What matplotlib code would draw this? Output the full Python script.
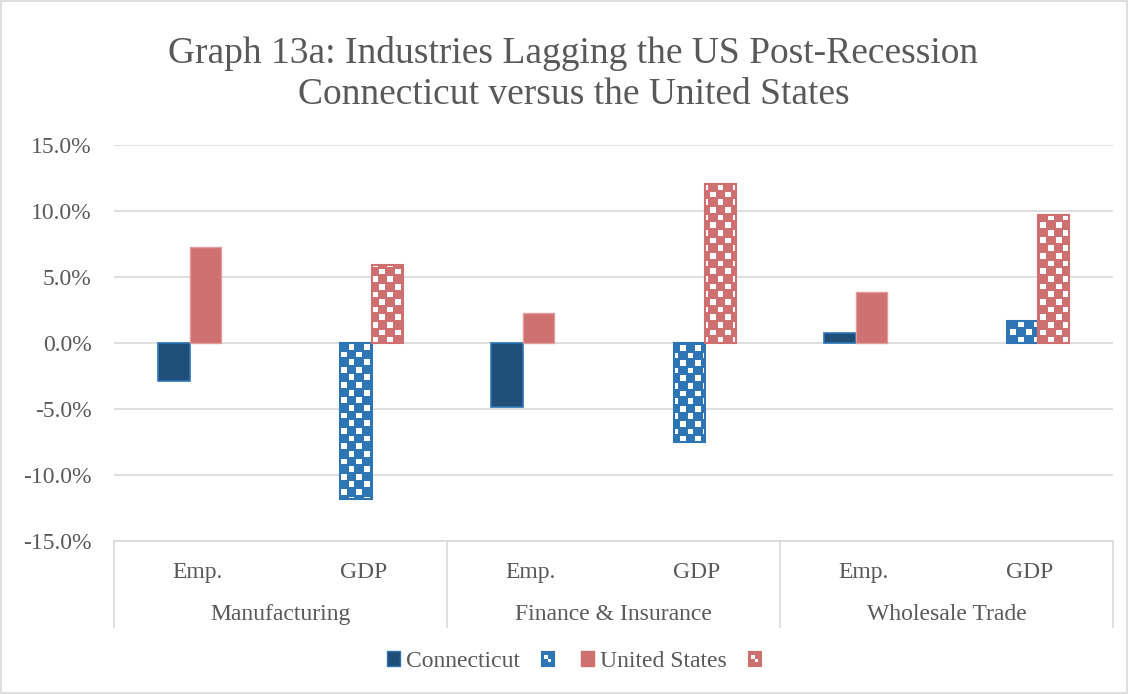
import numpy as np
import matplotlib.pyplot as plt
from matplotlib.patches import Patch, Rectangle
from matplotlib.legend_handler import HandlerBase
from matplotlib.colors import to_rgba
import matplotlib.transforms as mtransforms

plt.rcParams['font.family'] = ['Liberation Serif', 'DejaVu Serif']

# data (percent change)
sectors = ['Manufacturing', 'Finance & Insurance', 'Wholesale Trade']
measures = ['Emp.', 'GDP']
ct_emp = [-2.9, -4.85, 0.75]
us_emp = [7.25, 2.3, 3.85]
ct_gdp = [-11.85, -7.5, 1.7]
us_gdp = [5.9, 12.05, 9.7]
yticks = [-15, -10, -5, 0, 5, 10, 15]

TEXT = '#595959'
GRID = '#D9D9D9'
BLUE_DARK = '#1F4E79'
BLUE = '#2E75B6'
RED = '#CF7070'
FS = 17


def checker(color, ny, nx, sub=4):
    """RGBA checkerboard: coloured cells, white cells with a coloured rim"""
    img = np.tile(np.array(to_rgba(color)), (ny * sub, nx * sub, 1))
    yy, xx = np.mgrid[0:ny * sub, 0:nx * sub]
    white_cell = ((xx // sub) + (yy // sub)) % 2 == 1
    inner = ((xx % sub) >= 1) & ((yy % sub) >= 1)
    img[white_cell & inner] = (1, 1, 1, 1)
    return img


class CheckerHandler(HandlerBase):
    """small patterned square for the legend"""
    def create_artists(self, legend, orig_handle, xdescent, ydescent, width, height, fontsize, trans):
        col = orig_handle.get_facecolor()
        x0, y0 = -xdescent, -ydescent
        arts = [Rectangle((x0, y0), width, height, facecolor=col, edgecolor=col, lw=0.8, transform=trans)]
        for i, j in [(1, 2), (2, 1)]:
            arts.append(Rectangle((x0 + i * width / 4, y0 + j * height / 4), width / 4, height / 4,
                                  facecolor='white', edgecolor='none', transform=trans))
        return arts


fig = plt.figure(figsize=(11.29, 6.94), dpi=100)
ax = fig.add_axes([0.101, 0.2205, 0.885, 0.5705])
ax.set_xlim(-0.5, 5.5)
ax.set_ylim(-15, 15)

w = 0.187
step = w / 2
emp_x = np.arange(3) * 2
gdp_x = emp_x + 1

# solid bars (Emp.)
ax.bar(emp_x - 1.5 * step, ct_emp, w, color=BLUE_DARK, edgecolor=BLUE, linewidth=1.2, zorder=3)
ax.bar(emp_x + 0.5 * step, us_emp, w, color=RED, edgecolor='#E39A9A', linewidth=1.0, zorder=3)

# patterned bars (GDP)
cell_px = 7.5
ny, nx = int(396 / cell_px), int(999 / cell_px)
for xs, vals, col in [(gdp_x - 0.5 * step, ct_gdp, BLUE), (gdp_x + 1.5 * step, us_gdp, RED)]:
    bars = ax.bar(xs, vals, w, color='white', edgecolor=col, linewidth=1.2, zorder=3)
    for b in bars:
        im = ax.imshow(checker(col, ny, nx), extent=(-0.5, 5.5, -15, 15), aspect='auto',
                       interpolation='nearest', zorder=3.5)
        im.set_clip_path(b)
    ax.bar(xs, vals, w, color='none', edgecolor=col, linewidth=1.5, zorder=5)

ax.set_xlim(-0.5, 5.5)
ax.set_ylim(-15, 15)
ax.set_yticks(yticks)
ax.set_yticklabels([f'{v:.1f}%' for v in yticks])
ax.tick_params(axis='y', length=0, pad=16, labelsize=FS, labelcolor=TEXT)
ax.set_xticks([])
ax.grid(axis='y', color=GRID, linewidth=1.2, zorder=0)
ax.set_axisbelow(True)
for s in ['top', 'right', 'left']:
    ax.spines[s].set_visible(False)
ax.spines['bottom'].set_color(GRID)
ax.spines['bottom'].set_linewidth(1.2)

# multi-level category axis
trans = mtransforms.blended_transform_factory(ax.transData, ax.transAxes)
for xv in [-0.5, 1.5, 3.5, 5.5]:
    ax.plot([xv, xv], [0, -0.217], transform=trans, color=GRID, linewidth=1.2, clip_on=False)
for i in range(6):
    ax.text(i, -0.08, measures[i % 2], transform=trans, ha='center', va='center',
            fontsize=FS, color=TEXT)
for i, name in enumerate(sectors):
    ax.text(2 * i + 0.5, -0.185, name, transform=trans, ha='center', va='center',
            fontsize=FS, color=TEXT)

fig.text(0.508, 0.894, 'Graph 13a: Industries Lagging the US Post-Recession\nConnecticut versus the United States',
         ha='center', va='center', fontsize=27, color=TEXT, linespacing=1.25)

handles = [
    Patch(facecolor=BLUE_DARK, edgecolor=BLUE),
    Patch(facecolor=BLUE, edgecolor=BLUE),
    Patch(facecolor=RED, edgecolor=RED),
    Patch(facecolor=RED, edgecolor=RED),
]
labels = ['Connecticut', '', 'United States', '']
leg = fig.legend(handles, labels, loc='center', bbox_to_anchor=(0.511, 0.047), ncol=4,
                 frameon=False, fontsize=FS, handlelength=0.55, handleheight=0.55,
                 handletextpad=0.25, columnspacing=0.9,
                 handler_map={handles[1]: CheckerHandler(), handles[3]: CheckerHandler()})
for t in leg.get_texts():
    t.set_color(TEXT)

fig.patches.append(Rectangle((0.001, 0.001), 0.997, 0.997, transform=fig.transFigure,
                             fill=False, edgecolor=GRID, linewidth=1.2))

fig.savefig('out.png', dpi=100)
